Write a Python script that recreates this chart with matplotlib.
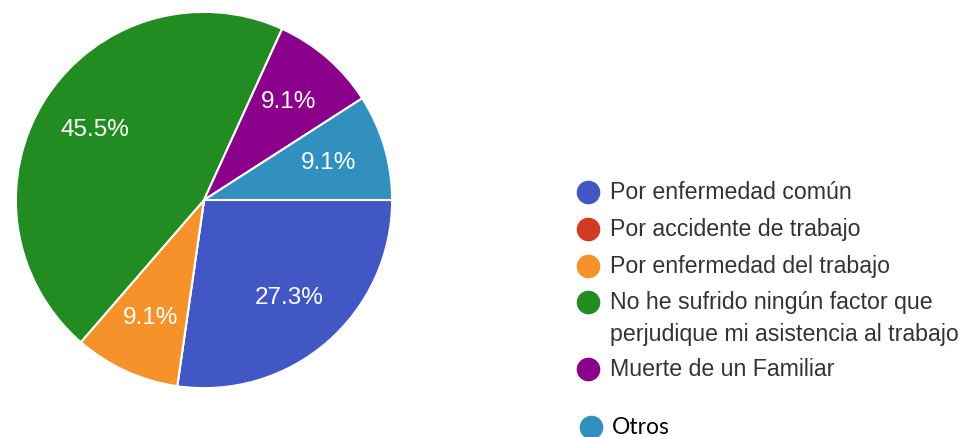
import matplotlib.pyplot as plt
from matplotlib.lines import Line2D

# Data
labels = ['Por enfermedad común', 'Por accidente de trabajo', 'Por enfermedad del trabajo',
          'No he sufrido ningún factor que\nperjudique mi asistencia al trabajo',
          'Muerte de un Familiar', 'Otros']
counts = [3, 0, 1, 5, 1, 1]
colors = ['#4157c4', '#d33a22', '#f5922a', '#228b22', '#8b008b', '#3190be']

W, H = 967, 437
fig = plt.figure(figsize=(W / 100, H / 100), dpi=100)

# pie axes (center ~ (204, 200) px, radius ~190 px)
cx, cy, r = 204, 200, 190
ax = fig.add_axes([(cx - r) / W, (H - cy - r) / H, 2 * r / W, 2 * r / H])


def pct(p):
    return '%.1f%%' % p if p > 0.5 else ''


wedges, texts, autotexts = ax.pie(counts, colors=colors, startangle=0, counterclock=False,
                                  autopct=pct, pctdistance=0.69, radius=1,
                                  wedgeprops=dict(edgecolor='white', linewidth=1.5))
for t in autotexts:
    t.set_color('white')
    t.set_fontsize(17.5)
    t.set_family('Liberation Sans')
ax.set_xlim(-1.01, 1.01)
ax.set_ylim(-1.01, 1.01)
ax.set_aspect('equal')
ax.axis('off')

# legend, drawn by hand
marker_y = [192, 229, 266, 302, 369]
for lab, col, my in zip(labels[:5], colors[:5], marker_y):
    fig.add_artist(Line2D([588 / W], [1 - my / H], marker='o', markersize=16,
                          color=col, transform=fig.transFigure))
    fig.text(610 / W, 1 - (my - 11) / H, lab, fontsize=16.7, color='#333333',
             family='Liberation Sans', va='top', linespacing=1.5)

fig.add_artist(Line2D([591 / W], [1 - 427 / H], marker='o', markersize=16,
                      color=colors[5], transform=fig.transFigure))
fig.text(612 / W, 1 - 427 / H, labels[5], fontsize=16.5, color='black',
         family='Lato', va='center')

fig.savefig('out.png', dpi=100)
